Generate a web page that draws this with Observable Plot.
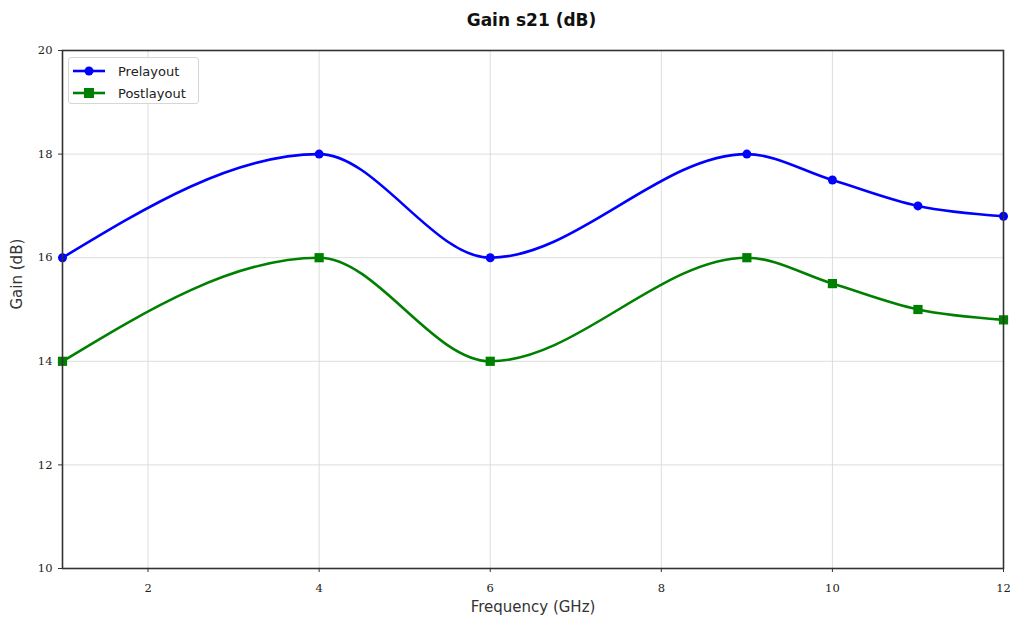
<!DOCTYPE html>
<html>
<head>
<meta charset="utf-8">
<script src="https://cdn.jsdelivr.net/npm/d3@7"></script>
<script src="https://cdn.jsdelivr.net/npm/@observablehq/plot@0.6"></script>
<style>
  html, body { margin: 0; padding: 0; background: #fff; }
  #wrap { position: relative; width: 1011px; height: 621px; font-family: "DejaVu Sans", sans-serif; }
  #title { height: 40px; line-height: 40px; text-align: center; font-weight: bold; font-size: 17px; color: #111; padding-left: 52px; box-sizing: border-box; }
  #legend { position: absolute; left: 68px; top: 57px; width: 131px; height: 47px; border: 1px solid #d6d6d6; border-radius: 3px; background: rgba(255,255,255,0.85); box-sizing: border-box; font-size: 13px; color: #222; }
  .item { position: absolute; left: 3px; height: 20px; display: flex; align-items: center; }
  .item svg { margin-right: 12px; }
</style>
</head>
<body>
<div id="wrap">
  <div id="title">Gain s21 (dB)</div>
  <div id="chart"></div>
  <div id="legend"></div>
</div>
<script>
// Data
const frequency = [1, 4, 6, 9, 10, 11, 12];
const prelayout = [16, 18, 16, 18, 17.5, 17, 16.8];
const postlayout = [14, 16, 14, 16, 15.5, 15, 14.8];
const xTicks = [2, 4, 6, 8, 10, 12];
const yTicks = [10, 12, 14, 16, 18, 20];
const seriesNames = ["Prelayout", "Postlayout"];
const seriesColors = ["#0000ff", "#008000"];

const pre = frequency.map((f, i) => ({f, g: prelayout[i]}));
const post = frequency.map((f, i) => ({f, g: postlayout[i]}));

const chart = Plot.plot({
  width: 1011,
  height: 581,
  marginTop: 10,
  marginBottom: 53,
  marginLeft: 62,
  marginRight: 8,
  style: {fontFamily: "'DejaVu Serif', serif", fontSize: "11.5px", color: "#222", background: "#fff"},
  x: {domain: [1, 12], ticks: xTicks},
  y: {domain: [10, 20], ticks: yTicks},
  marks: [
    Plot.gridX(xTicks, {stroke: "#d9d9d9", strokeOpacity: 1, strokeWidth: 0.9}),
    Plot.gridY(yTicks, {stroke: "#d9d9d9", strokeOpacity: 1, strokeWidth: 0.9}),
    Plot.axisX({ticks: xTicks, tickSize: 4, tickPadding: 11, label: null, stroke: "#333"}),
    Plot.axisY({ticks: yTicks, tickSize: 4, tickPadding: 6, label: null, stroke: "#333"}),
    Plot.line(pre, {x: "f", y: "g", stroke: seriesColors[0], strokeWidth: 2.6, curve: "monotone-x"}),
    Plot.line(post, {x: "f", y: "g", stroke: seriesColors[1], strokeWidth: 2.6, curve: "monotone-x"}),
    Plot.dot(pre, {x: "f", y: "g", fill: seriesColors[0], r: 4.5, symbol: "circle"}),
    Plot.dot(post, {x: "f", y: "g", fill: seriesColors[1], r: 5.2, symbol: "square"}),
    Plot.frame({stroke: "#333", strokeWidth: 1.6}),
    Plot.text(["Frequency (GHz)"], {frameAnchor: "bottom", dy: 43, text: d => d, fontSize: 15, fontFamily: "'DejaVu Sans', sans-serif", fill: "#333"}),
    Plot.text(["Gain (dB)"], {frameAnchor: "left", dx: -45, rotate: -90, text: d => d, fontSize: 15, fontFamily: "'DejaVu Sans', sans-serif", fill: "#333"})
  ]
});
document.getElementById("chart").appendChild(chart);

// Legend
const legend = document.getElementById("legend");
seriesNames.forEach((name, i) => {
  const item = document.createElement("div");
  item.className = "item";
  item.style.top = (3 + i * 22) + "px";
  const marker = i === 0
    ? `<circle cx="17" cy="10" r="4.5" fill="${seriesColors[i]}"/>`
    : `<rect x="12" y="5" width="10" height="10" fill="${seriesColors[i]}"/>`;
  item.innerHTML = `<svg width="34" height="20"><line x1="1" x2="33" y1="10" y2="10" stroke="${seriesColors[i]}" stroke-width="2.6"/>${marker}</svg><span>${name}</span>`;
  legend.appendChild(item);
});
</script>
</body>
</html>
